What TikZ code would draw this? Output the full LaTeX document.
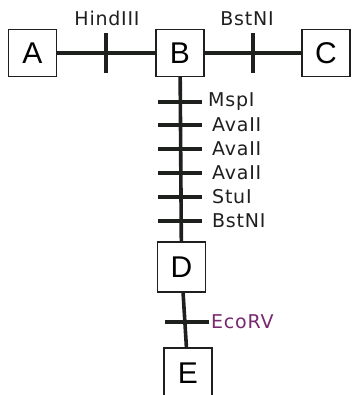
\documentclass[tikz,border=0pt]{standalone}
\usepackage{fontspec}
\setmainfont{Liberation Sans}
\newfontfamily\plotfont[LetterSpace=4]{DejaVu Sans}
\usetikzlibrary{positioning}
\definecolor{inkc}{RGB}{30,32,30}
\definecolor{ecoc}{RGB}{120,40,110}
\tikzset{
  box/.style={rectangle,draw=inkc,line width=1.1pt,fill=white,minimum width=48pt,minimum height=47pt,inner sep=0pt,font=\fontsize{30}{30}\selectfont},
  link/.style={line width=3.6pt,inkc},
  vcut/.style={rectangle,fill=inkc,minimum width=4pt,minimum height=40pt,inner sep=0pt},
  hcut/.style={rectangle,fill=inkc,minimum width=44pt,minimum height=4pt,inner sep=0pt},
  enz/.style={font=\plotfont\fontsize{19}{19}\selectfont,text=inkc,inner sep=0pt},
}
\begin{document}
\begin{tikzpicture}[x=1pt,y=-1pt]
  \useasboundingbox (0,0) rectangle (351,395);
  \node[box](A) at (32.5,53){A}; \node[box](B) at (180,53){B};
  \node[box](C) at (326,53){C}; \node[box,minimum height=50pt](D) at (181.5,267){D};
  \node[box,minimum height=50pt](E) at (188,373){E};
  \draw[link] (A)--(B); \draw[link] (B)--(C);
  \draw[link] (B)--(D); \draw[link] (D)--(E);
  % horizontal arm
  \node[vcut](h1) at (106,53){}; \node[enz,above=7pt of h1,xshift=1pt](lh1){HindIII};
  \node[vcut](h2) at (253,53){}; \node[enz,above=7pt of h2,xshift=-6pt](lh2){BstNI};
  % vertical arm
  \foreach \y/\e/\x [count=\i] in {102/MspI/208,125/AvaII/212,149/AvaII/212,173/AvaII/212,197/StuI/212,221/BstNI/212}
    {\node[hcut](v\i) at (180,\y){};
     \node[enz,anchor=west](lv\i) at (\x,\y){\e};}
  \node[hcut](v7) at (187,322){};
  \node[enz,anchor=west,text=ecoc](lv7) at (211,322){EcoRV};
\end{tikzpicture}
\end{document}
